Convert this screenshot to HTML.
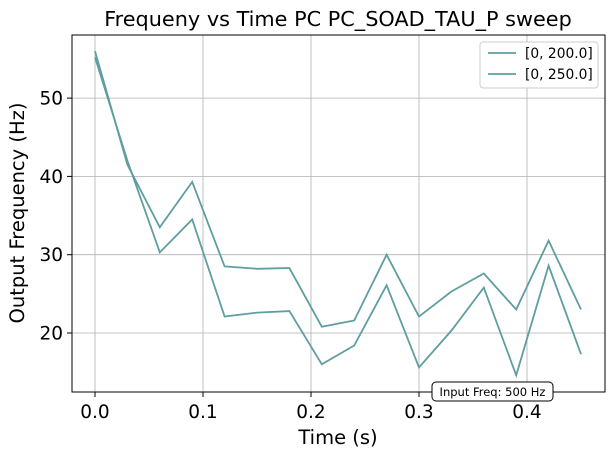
<!DOCTYPE html>
<html><head><meta charset="utf-8"><style>
body{margin:0;background:#fff;}
svg{font-family:"DejaVu Sans","Liberation Sans",sans-serif;}
</style></head><body>
<svg id="chart" width="615" height="455" viewBox="0 0 615 455">
<rect width="615" height="455" fill="#fff"/>
<text x="338" y="26" font-size="20.8" text-anchor="middle">Frequeny vs Time PC PC_SOAD_TAU_P sweep</text>
<g id="grid"></g>
<g id="series"></g>
<rect x="72" y="35" width="533" height="357" fill="none" stroke="#000" stroke-width="1"/>
<g id="ticks"></g>
<text x="338" y="444" font-size="19.5" text-anchor="middle">Time (s)</text>
<text transform="translate(24,213) rotate(-90)" font-size="19.5" text-anchor="middle">Output Frequency (Hz)</text>
<g>
<rect x="480" y="42" width="118" height="46" rx="3" fill="#fff" stroke="#ccc"/>
<line x1="488" y1="53" x2="516" y2="53" stroke="#5f9ea0" stroke-width="1.8"/>
<text x="525" y="58" font-size="13.8">[0, 200.0]</text>
<line x1="488" y1="74" x2="516" y2="74" stroke="#5f9ea0" stroke-width="1.8"/>
<text x="525" y="79" font-size="13.8">[0, 250.0]</text>
</g>
<g>
<rect x="432" y="382" width="121" height="19" rx="4" fill="#fff" stroke="#000"/>
<text x="492.5" y="396" font-size="11.5" text-anchor="middle">Input Freq: 500 Hz</text>
</g>
</svg>
<script>
const times=[0,0.03,0.06,0.09,0.12,0.15,0.18,0.21,0.24,0.27,0.30,0.33,0.36,0.39,0.42,0.45];
const series200=[56,41.5,33.5,39.3,28.5,28.2,28.3,20.8,21.6,30,22.1,25.3,27.6,23,31.8,23];
const series250=[55.2,42,30.3,34.5,22.1,22.6,22.8,16,18.4,26.1,15.6,20.3,25.8,14.6,28.6,17.3];
const xTicks=[0,0.1,0.2,0.3,0.4];
const xTickLabels=["0.0","0.1","0.2","0.3","0.4"];
const yTicks=[20,30,40,50];
const yTickLabels=["20","30","40","50"];
const NS="http://www.w3.org/2000/svg";
function xs(v){return 95+v*1080;}
function ys(v){return 333-(v-20)*7.83;}
const grid=document.getElementById('grid'),ticks=document.getElementById('ticks'),ser=document.getElementById('series');
function mk(tag,attrs,parent){const e=document.createElementNS(NS,tag);for(const k in attrs)e.setAttribute(k,attrs[k]);parent.appendChild(e);return e;}
xTicks.forEach((t,i)=>{
 const g=mk('line',{x1:xs(t),x2:xs(t),y1:35,y2:392,stroke:'#b0b0b0','stroke-width':0.8},grid);
 
 
 mk('line',{x1:xs(t),x2:xs(t),y1:392,y2:397,stroke:'#000'},ticks);
 const tx=mk('text',{x:xs(t),y:418,'font-size':18.5,'text-anchor':'middle'},ticks);
 tx.textContent=xTickLabels[i];
 
 
});
yTicks.forEach((t,i)=>{
 const g=mk('line',{x1:72,x2:605,y1:ys(t),y2:ys(t),stroke:'#b0b0b0','stroke-width':0.8},grid);
 
 
 mk('line',{x1:67,x2:72,y1:ys(t),y2:ys(t),stroke:'#000'},ticks);
 const tx=mk('text',{x:63,y:ys(t)+6.5,'font-size':18.5,'text-anchor':'end'},ticks);
 tx.textContent=yTickLabels[i];
 
 
});
[[series200,'line-200'],[series250,'line-250']].forEach(([vals,name])=>{
 const p=mk('polyline',{points:vals.map((v,i)=>xs(times[i])+','+ys(v)).join(' '),fill:'none',stroke:'#5f9ea0','stroke-width':1.8},ser);
 
 
});
</script>
</body></html>
